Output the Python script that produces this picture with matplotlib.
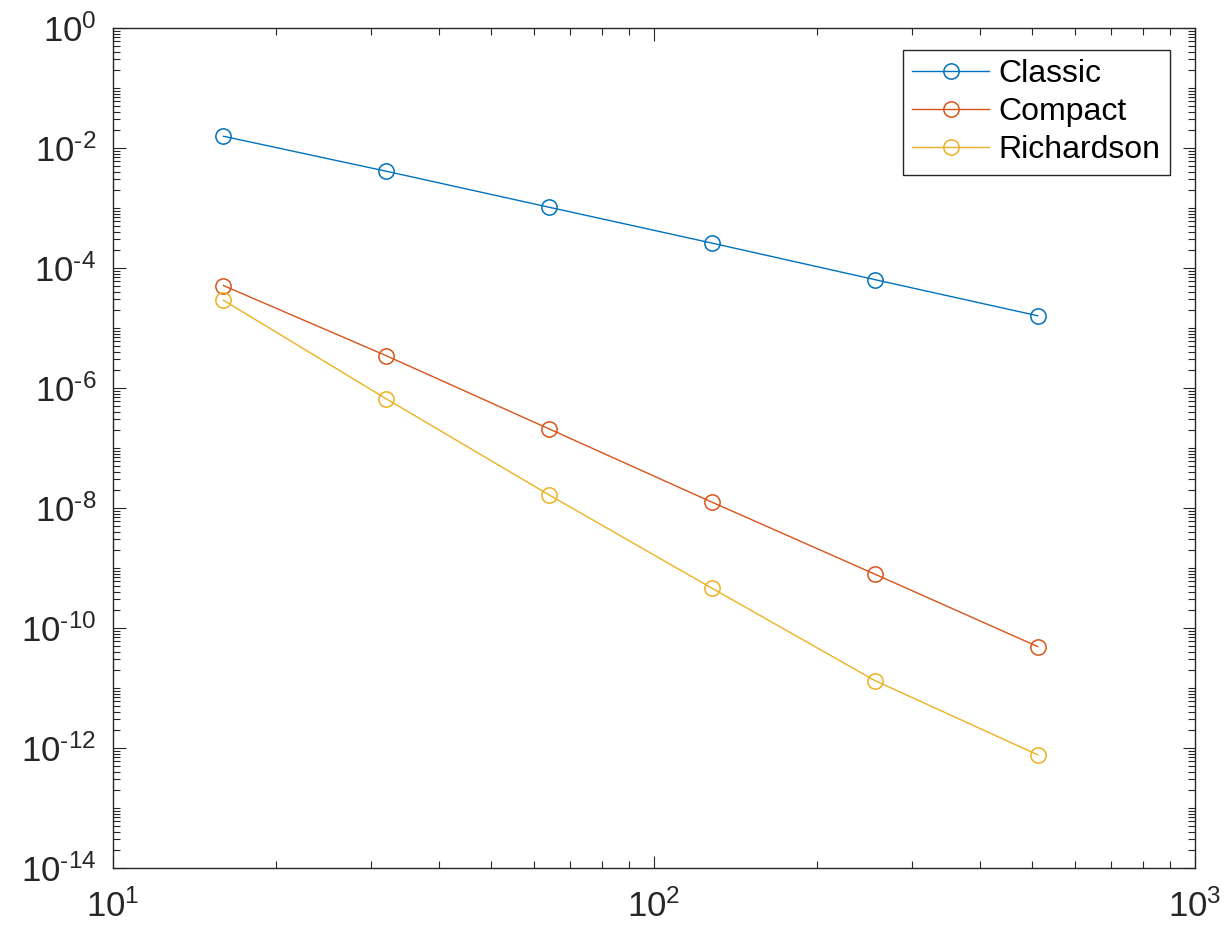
import numpy as np
import matplotlib
matplotlib.use("Agg")
import matplotlib.pyplot as plt
from matplotlib.ticker import LogLocator, FuncFormatter, NullFormatter

plt.rcParams['font.family'] = ['Liberation Sans', 'DejaVu Sans']
plt.rcParams['mathtext.fontset'] = 'custom'
plt.rcParams['mathtext.rm'] = 'Liberation Sans'
plt.rcParams['mathtext.it'] = 'Liberation Sans'

# grid sizes and errors of the three schemes
n = [16, 32, 64, 128, 256, 512]
err_classic = [1.57e-2, 4.1e-3, 1.03e-3, 2.6e-4, 6.4e-5, 1.6e-5]
err_compact = [5.1e-5, 3.45e-6, 2.08e-7, 1.25e-8, 7.9e-10, 4.9e-11]
err_richardson = [2.9e-5, 6.6e-7, 1.65e-8, 4.6e-10, 1.33e-11, 7.7e-13]

xticks = [10, 100, 1000]
yticks = [1e-14, 1e-12, 1e-10, 1e-8, 1e-6, 1e-4, 1e-2, 1]


def pow_label(v, pos):
    e = int(round(np.log10(v)))
    return r'$10^{\text{%d}}$' % e


fig = plt.figure(figsize=(12.31, 9.33), dpi=100)
ax = fig.add_axes([113 / 1231, 1 - 868 / 933, (1195 - 113) / 1231, (868 - 28) / 933])

ax.loglog(n, err_classic, '-o', color='#0072BD', lw=1.0, ms=11, mfc='none', mew=1.1, label='Classic')
ax.loglog(n, err_compact, '-o', color='#D95319', lw=1.0, ms=11, mfc='none', mew=1.1, label='Compact')
ax.loglog(n, err_richardson, '-o', color='#EDB120', lw=1.0, ms=11, mfc='none', mew=1.1, label='Richardson')

ax.set_xlim(10, 1000)
ax.set_ylim(1e-14, 1)

ax.set_xticks(xticks)
ax.set_yticks(yticks)
ax.xaxis.set_minor_locator(LogLocator(base=10, subs=np.arange(2, 10), numticks=20))
ax.yaxis.set_minor_locator(LogLocator(base=10, subs=np.arange(1, 10), numticks=40))
ax.xaxis.set_major_formatter(FuncFormatter(pow_label))
ax.yaxis.set_major_formatter(FuncFormatter(pow_label))
ax.xaxis.set_minor_formatter(NullFormatter())
ax.yaxis.set_minor_formatter(NullFormatter())

ax.tick_params(which='both', direction='in', top=True, right=True, colors='#262626',
               labelcolor='#262626', labelsize=25, width=0.8)
ax.tick_params(which='major', length=9, pad=12)
ax.tick_params(which='minor', length=5)
ax.tick_params(axis='x', which='major', pad=15)
for s in ax.spines.values():
    s.set_color('#262626')
    s.set_linewidth(1.0)

leg = ax.legend(loc='upper right', bbox_to_anchor=(0.977, 0.974), fontsize=23, frameon=True,
                fancybox=False, edgecolor='#262626', framealpha=1, handlelength=2.4,
                handletextpad=0.3, borderpad=0.3, labelspacing=0.25, borderaxespad=0)
leg.get_frame().set_linewidth(1.0)

fig.savefig('out.png', dpi=100)
